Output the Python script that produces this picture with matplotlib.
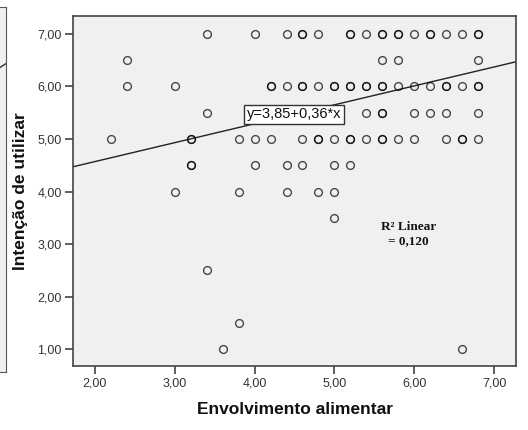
import matplotlib.pyplot as plt

# Envolvimento alimentar (x) vs Intenção de utilizar (y), one row per y level
row_7 = [3.4, 4.0, 4.4, 4.6, 4.6, 4.8, 5.2, 5.2, 5.4, 5.6, 5.6, 5.8, 5.8,
         6.0, 6.2, 6.2, 6.4, 6.6, 6.8, 6.8]
row_65 = [2.4, 5.6, 5.8, 6.8]
row_6 = [2.4, 3.0, 4.2, 4.2, 4.4, 4.6, 4.6, 4.8, 5.0, 5.0, 5.2, 5.2, 5.4, 5.4,
         5.6, 5.6, 5.8, 6.0, 6.2, 6.4, 6.4, 6.6, 6.8, 6.8]
row_55 = [3.4, 5.4, 5.6, 5.6, 6.0, 6.2, 6.4, 6.8]
row_5 = [2.2, 3.2, 3.2, 3.8, 4.0, 4.2, 4.6, 4.8, 4.8, 5.0, 5.2, 5.2, 5.4, 5.6,
         5.6, 5.8, 6.0, 6.4, 6.6, 6.6, 6.8]
row_45 = [3.2, 3.2, 4.0, 4.4, 4.6, 5.0, 5.2]
row_4 = [3.0, 3.8, 4.4, 4.8, 5.0]
row_35 = [5.0]
row_25 = [3.4]
row_15 = [3.8]
row_1 = [3.6, 6.6]

rows = {7.0: row_7, 6.5: row_65, 6.0: row_6, 5.5: row_55, 5.0: row_5,
        4.5: row_45, 4.0: row_4, 3.5: row_35, 2.5: row_25, 1.5: row_15, 1.0: row_1}

intercept = 3.85
slope = 0.36
r2 = "0,120"

xticks = [2, 3, 4, 5, 6, 7]
yticks = [1, 2, 3, 4, 5, 6, 7]

plt.rcParams['font.family'] = ['Liberation Sans', 'DejaVu Sans']

fig = plt.figure(figsize=(5.28, 4.30), dpi=100)

# sliver of the neighbouring chart at the left edge
side = fig.add_axes([-50 / 528, 58 / 430, 56 / 528, 365 / 430])
side.set_facecolor('#f0f0f0')
side.set_xlim(0, 1)
side.set_ylim(0, 1)
side.plot([0.85, 1], [0.83, 0.845], color='#333333', lw=1)
side.set_xticks([])
side.set_yticks([])
for s in side.spines.values():
    s.set_color('#555555')

ax = fig.add_axes([73 / 528, 64 / 430, 443 / 528, 350 / 430])
ax.set_facecolor('#f0f0f0')

xs = []
ys = []
for yv, xl in rows.items():
    xs += xl
    ys += [yv] * len(xl)

ax.plot(xs, ys, 'o', ms=5.6, mfc='none', mec='black', mew=1.0, alpha=0.7, zorder=3)

x0, x1 = 1.725, 7.275
ax.plot([x0, x1], [intercept + slope * x0, intercept + slope * x1],
        color='#222222', lw=1, zorder=2)

ax.text(4.494, 5.467, 'y=3,85+0,36*x', ha='center', va='center', fontsize=10.5,
        color='#111111', zorder=5,
        bbox=dict(boxstyle='square,pad=0.2', fc='white', ec='#333333', lw=1))

ax.text(5.93, 3.19, 'R² Linear\n= ' + r2, ha='center', va='center', fontsize=9.5,
        family='Liberation Serif', fontweight='bold', color='#111111',
        linespacing=1.3)

ax.set_xlim(x0, x1)
ax.set_ylim(0.68, 7.34)
ax.set_xticks(xticks)
ax.set_yticks(yticks)
ax.set_xticklabels([('%.2f' % v).replace('.', ',') for v in xticks])
ax.set_yticklabels([('%.2f' % v).replace('.', ',') for v in yticks])
ax.tick_params(direction='out', length=6, width=1.2, color='#444444',
               labelsize=9, labelcolor='#333333', pad=2)
for s in ax.spines.values():
    s.set_color('#444444')
    s.set_linewidth(1.2)

ax.set_xlabel('Envolvimento alimentar', fontsize=12.5, fontweight='bold', color='#111111')
ax.set_ylabel('Intenção de utilizar', fontsize=12.5, fontweight='bold', color='#111111')
ax.xaxis.set_label_coords(0.501, -0.103)
ax.yaxis.set_label_coords(-0.1016, 0.5)

fig.savefig('out.png', dpi=100)
